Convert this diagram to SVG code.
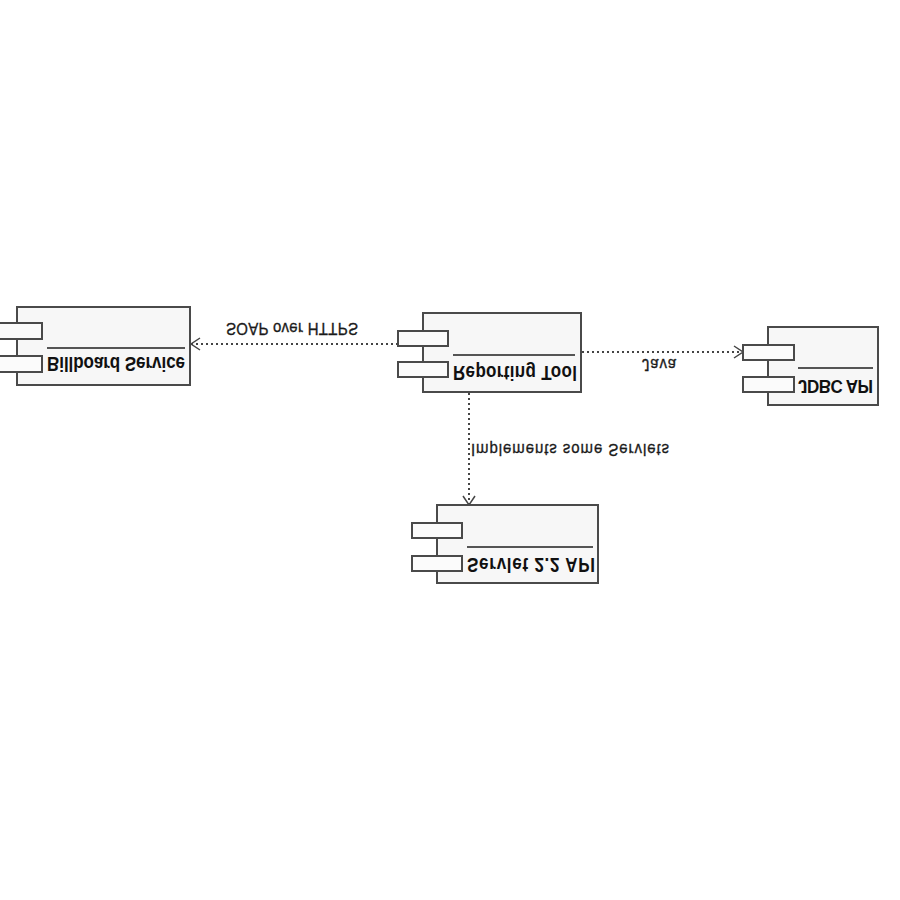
<svg xmlns="http://www.w3.org/2000/svg" width="900" height="900" viewBox="0 0 900 900">
<style>
.box{fill:#f7f7f7;stroke:#4a4a4a;stroke-width:2}
.tab{fill:#fbfbfb;stroke:#4a4a4a;stroke-width:2}
.sep{stroke:#555;stroke-width:2}
.name{font-family:"Liberation Sans",Arial,sans-serif;font-weight:bold;font-size:17px;fill:#111}
.lbl{font-family:"Liberation Sans",Arial,sans-serif;font-size:15px;fill:#1a1a1a;stroke:#1a1a1a;stroke-width:0.3}
.dep{fill:none;stroke:#444;stroke-width:2;stroke-dasharray:2 3}
.head{fill:none;stroke:#444;stroke-width:1.5}
</style>
<rect width="900" height="900" fill="#ffffff"/>
<g id="connectors">
  <line class="dep" x1="398" y1="344" x2="192" y2="344"/>
  <polyline class="head" points="200,338 191,344 200,350"/>
  <line class="dep" x1="582" y1="352" x2="742" y2="352"/>
  <polyline class="head" points="734,346 743,352 734,358"/>
  <line class="dep" x1="469" y1="393" x2="469" y2="504"/>
  <polyline class="head" points="463,496 469,505 475,496"/>
  <text class="lbl" transform="translate(226,323) scale(1,-1.12)" textLength="132">SOAP over HTTPS</text>
  <text class="lbl" transform="translate(642,359) scale(1,-1.12)" textLength="34">Java</text>
  <text class="lbl" transform="translate(471,444) scale(1,-1.12)" textLength="198">Implements some Servlets</text>
</g>
<g id="billboard">
  <rect class="box" x="17" y="307" width="173" height="78"/>
  <rect class="tab" x="-8" y="323" width="50" height="16"/>
  <rect class="tab" x="-8" y="356" width="50" height="16"/>
  <line class="sep" x1="47" y1="348" x2="185" y2="348"/>
  <text class="name" transform="translate(47,357) scale(1,-1.2)" textLength="138">Billboard Service</text>
</g>
<g id="reporting">
  <rect class="box" x="423" y="313" width="158" height="79"/>
  <rect class="tab" x="398" y="331" width="50" height="15"/>
  <rect class="tab" x="398" y="362" width="50" height="15"/>
  <line class="sep" x1="453" y1="355" x2="575" y2="355"/>
  <text class="name" transform="translate(453,366) scale(1,-1.2)" textLength="124">Reporting Tool</text>
</g>
<g id="jdbc">
  <rect class="box" x="768" y="327" width="110" height="78"/>
  <rect class="tab" x="743" y="345" width="51" height="15"/>
  <rect class="tab" x="743" y="377" width="51" height="15"/>
  <line class="sep" x1="798" y1="368" x2="873" y2="368"/>
  <text class="name" transform="translate(798,380) scale(1,-1.1)" textLength="75">JDBC API</text>
</g>
<g id="servlet">
  <rect class="box" x="437" y="505" width="161" height="78"/>
  <rect class="tab" x="412" y="523" width="50" height="15"/>
  <rect class="tab" x="412" y="556" width="50" height="15"/>
  <line class="sep" x1="467" y1="547" x2="593" y2="547"/>
  <text class="name" transform="translate(467,558) scale(1,-1.2)" textLength="128">Servlet 2.2 API</text>
</g>
</svg>
